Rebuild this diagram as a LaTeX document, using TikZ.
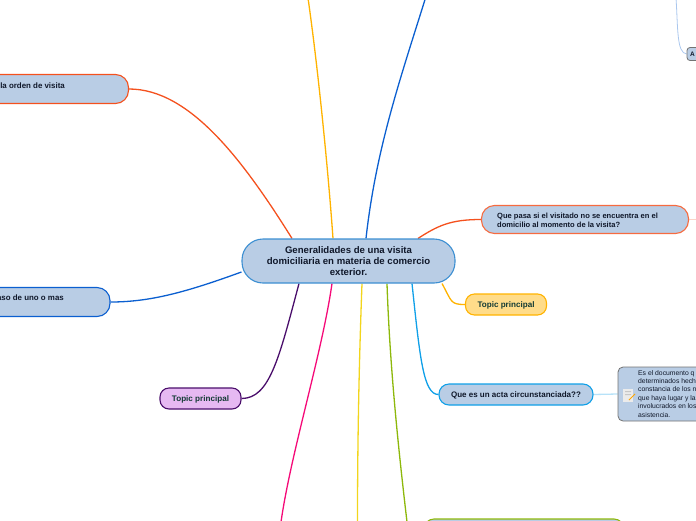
\documentclass[tikz,border=0pt]{standalone}
\usepackage{fontspec}
\setmainfont{Liberation Sans}
\usetikzlibrary{backgrounds}
\definecolor{nodefill}{HTML}{B9CDE5}
\definecolor{cRed}{HTML}{F4511E}
\definecolor{cBlue}{HTML}{0B5FD0}
\definecolor{cAmber}{HTML}{FFB300}
\definecolor{cPurple}{HTML}{4A0E6B}
\definecolor{cPurpleFill}{HTML}{E6B9F2}
\definecolor{cAmberFill}{HTML}{FFDC8A}
\definecolor{cPink}{HTML}{F50A78}
\definecolor{cYellow}{HTML}{F2D51C}
\definecolor{cGreen}{HTML}{8DB80B}
\definecolor{cCyan}{HTML}{10A0E8}
\definecolor{cText}{HTML}{10182A}
\definecolor{cTopic}{HTML}{123A34}
\definecolor{cCentral}{HTML}{3C8FD2}
\tikzset{
  x=1pt,y=-1pt,
  boxbase/.style={rectangle,rounded corners=#1,fill=nodefill,line width=1.1pt,inner sep=0pt,text=cText,font=\bfseries\fontsize{7.9}{9}\selectfont},
  boxbase/.default=10pt,
  central/.style={boxbase=21pt,draw=cCentral,minimum width=213pt,minimum height=44pt,align=center,text depth=0pt,font=\bfseries\fontsize{9.6}{11}\selectfont},
  topic/.style={boxbase=9pt,minimum width=81pt,minimum height=21pt,text=cTopic,text depth=0pt,font=\bfseries\fontsize{8.1}{9}\selectfont},
  link/.style={line width=1.3pt},
  label/.style={inner sep=0pt,text=cText,font=\bfseries\fontsize{7.9}{9}\selectfont},
}
\begin{document}
\begin{tikzpicture}
\useasboundingbox (0,0) rectangle (696,520);
\clip (0,0) rectangle (696,520);
% free ends
\coordinate (topA) at (308,-2);
\coordinate (topB) at (425.5,-2);
\coordinate (botPink) at (281,522);
\coordinate (botYellow) at (357.5,522);
\coordinate (botGreen) at (407,522);
\coordinate (topLight) at (676,-2);
\coordinate (rightFree) at (698,219.5);
% nodes
\node[central] (c) at (348.5,261) {Generalidades de una visita\\domiciliaria en materia de comercio\\exterior.};
\node[boxbase=13pt,draw=cRed,minimum width=259pt,minimum height=29pt] (orden) at (-1,89) {};
\node[label,anchor=east] (ordenT) at (65,85.5) {la orden de visita};
\node[boxbase=13pt,draw=cBlue,minimum width=240pt,minimum height=29pt] (caso) at (-10,302) {};
\node[label,anchor=east] (casoT) at (64,298) {aso de uno o mas};
\node[topic,draw=cPurple,fill=cPurpleFill] (purple) at (200.5,398.5) {Topic principal};
\node[boxbase=13pt,draw=cRed!85!white,minimum width=207pt,minimum height=28pt] (pasa) at (585,219.5) {};
\node[label,anchor=west,align=left,font=\bfseries\fontsize{7.55}{9}\selectfont] (pasaT) at (497,220) {Que pasa si el visitado no se encuentra en el\\domicilio al momento de la visita?};
\node[topic,draw=cAmber,fill=cAmberFill] (yellowT) at (506,304.5) {Topic principal};
\node[boxbase=10pt,draw=cCyan,minimum width=154pt,minimum height=21pt,text depth=0pt,font=\bfseries\fontsize{8}{9}\selectfont] (acta) at (516,394.5) {Que es un acta circunstanciada??};
\node[boxbase=5pt,draw=black!55,line width=.8pt,minimum width=100pt,minimum height=54pt] (nota) at (668,394) {};
\node[inner sep=0pt,anchor=north west,align=left,text=cText,font=\fontsize{6.8}{8.4}\selectfont] (notaT) at (638,370) {Es el documento q\\determinados hech\\constancia de los n\\que haya lugar y la\\involucrados en los\\asistencia.};
\node[boxbase=3pt,draw=black!55,line width=.8pt,minimum width=20pt,minimum height=13pt] (small) at (697,54) {};
\node[label,anchor=west,font=\bfseries\fontsize{6.5}{8}\selectfont] (smallT) at (690,54) {A};
\node[boxbase=10pt,draw=cGreen,minimum width=200pt,minimum height=30pt] (verde) at (524,534) {};
% icon of the note
\fill[black!8] (623,389) rectangle (633,402);
\fill[black!22] (625,391) rectangle (631,392) (625,394) rectangle (631,395);
\draw[draw=orange!70!yellow,line width=1pt] (629,400) -- (635,394);
% connectors
\begin{scope}[on background layer]
\draw[link,cRed] ([xshift=-56.5pt]c.north) .. controls +(-50,-80) and +(60,0) .. (orden.east);
\draw[link,cAmber] ([xshift=-15.5pt]c.north) .. controls +(-5,-70) and +(10,70) .. (topA);
\draw[link,cBlue] ([xshift=17.5pt]c.north) .. controls +(10,-90) and +(-25,80) .. (topB);
\draw[link,cRed] ([xshift=69.5pt]c.north) .. controls +(20,-13) and +(-30,0) .. (pasa.west);
\draw[link,cBlue] ([yshift=-11pt]c.west) .. controls +(-55,20) and +(40,0) .. (caso.east);
\draw[link,cPurple] ([xshift=-49.5pt]c.south) .. controls +(-20,75) and +(28,0) .. (purple.east);
\draw[link,cPink] ([xshift=-16.5pt]c.south) .. controls +(-10,70) and +(10,-70) .. (botPink);
\draw[link,cYellow] ([xshift=13.5pt]c.south) .. controls +(-3,80) and +(0,-80) .. (botYellow);
\draw[link,cGreen] ([xshift=38.5pt]c.south) .. controls +(3,90) and +(-7,-60) .. (botGreen);
\draw[link,cCyan] ([xshift=63.5pt]c.south) .. controls +(8,75) and +(-15,0) .. (acta.west);
\draw[link,cAmber] ([xshift=93.5pt]c.south) .. controls +(10,18) and +(-15,0) .. (yellowT.west);
\draw[link,cCyan!30!white] (acta.east) -- (nota.west);
\draw[line width=.8pt,cBlue!35!white] (small.west) .. controls +(-10,-1) and +(2,30) .. (topLight);
\draw[link,cRed!25!white] (pasa.east) -- (rightFree);
\end{scope}
\end{tikzpicture}
\end{document}
